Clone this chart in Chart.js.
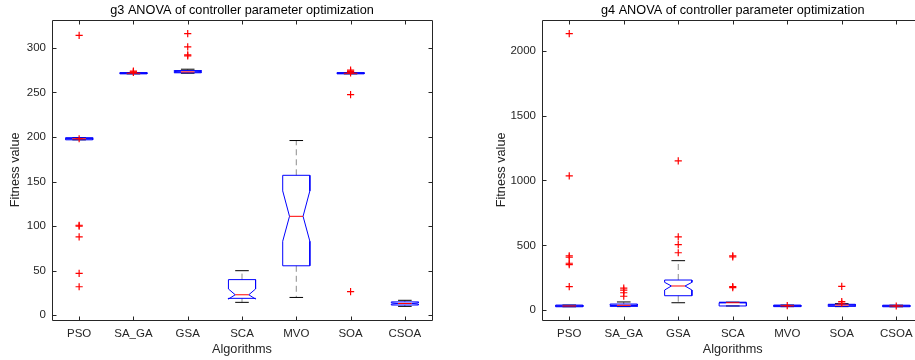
<!DOCTYPE html>
<html>
<head>
<meta charset="utf-8">
<script src="https://cdn.jsdelivr.net/npm/chart.js@4"></script>
<style>
  html, body { margin: 0; padding: 0; background: #fff; overflow: hidden; width: 915px; height: 360px; }
  #g3Chart { position: absolute; left: 0; top: 0; }
  #g4Chart { position: absolute; left: 460px; top: 0; }
</style>
</head>
<body>
<canvas id="g3Chart" width="460" height="360"></canvas>
<canvas id="g4Chart" width="475" height="360"></canvas>
<script>
const algorithms = ["PSO", "SA_GA", "GSA", "SCA", "MVO", "SOA", "CSOA"];

// g3
const g3Ticks = [0, 50, 100, 150, 200, 250, 300];
const g3Q1 = [196.8, 270.8, 272, 19, 55.5, 270.8, 11.5];
const g3Median = [198, 271.5, 273, 23, 111, 271.5, 13.2];
const g3Q3 = [199.2, 272.2, 274.5, 40, 157, 272.2, 15];
const g3NotchLo = [198, 271.5, 272.5, 18.2, 83, 271.5, 12.5];
const g3NotchHi = [198, 271.5, 273.5, 29.5, 139.5, 271.5, 14];
const g3WhiskerLo = [196.8, 270.8, 271.5, 14.5, 20, 270.8, 10];
const g3WhiskerHi = [199.2, 272.2, 276, 50, 196, 272.2, 16.8];
const g3Outliers = [
    [314, 198, 101, 100, 88, 47, 32],
    [274, 273, 272.5],
    [316, 301, 292, 291],
    [],
    [],
    [275, 273.5, 272, 247.5, 26.5],
    [],
];

// g4
const g4Ticks = [0, 500, 1000, 1500, 2000];
const g4Q1 = [27, 30, 112, 33, 28, 30, 27];
const g4Median = [33, 38, 187, 58, 34, 40, 33];
const g4Q3 = [40, 48, 233, 62, 40, 46, 39];
const g4NotchLo = [33, 36, 156, 56, 34, 38, 33];
const g4NotchHi = [33, 40, 215, 60, 34, 42, 33];
const g4WhiskerLo = [27, 28, 58, 33, 28, 28, 27];
const g4WhiskerHi = [40, 64, 382, 62, 40, 51, 39];
const g4Outliers = [
    [2131, 1035, 420, 410, 362, 352, 182],
    [170, 155, 135, 108],
    [1151, 566, 505, 443],
    [420, 412, 183, 175],
    [35],
    [184, 66, 54],
    [33],
];

Chart.defaults.font.family = "'Liberation Sans', Arial, Helvetica, sans-serif";
Chart.defaults.color = "#262626";

const BOX_W = 0.25;

function buildDatasets(q1, med, q3, nLo, nHi, wLo, wHi, outliers) {
    const box = [], medLine = [], caps = [], whiskers = [], pts = [];
    for (let i = 0; i < q1.length; i++) {
        const x = i + 1;
        box.push(
            { x: x - BOX_W, y: q1[i] }, { x: x - BOX_W, y: nLo[i] }, { x: x - BOX_W / 2, y: med[i] },
            { x: x - BOX_W, y: nHi[i] }, { x: x - BOX_W, y: q3[i] }, { x: x + BOX_W, y: q3[i] },
            { x: x + BOX_W, y: nHi[i] }, { x: x + BOX_W / 2, y: med[i] }, { x: x + BOX_W, y: nLo[i] },
            { x: x + BOX_W, y: q1[i] }, { x: x - BOX_W, y: q1[i] }, { x: x, y: null }
        );
        medLine.push({ x: x - BOX_W / 2, y: med[i] }, { x: x + BOX_W / 2, y: med[i] }, { x: x, y: null });
        caps.push(
            { x: x - BOX_W / 2, y: wHi[i] }, { x: x + BOX_W / 2, y: wHi[i] }, { x: x, y: null },
            { x: x - BOX_W / 2, y: wLo[i] }, { x: x + BOX_W / 2, y: wLo[i] }, { x: x, y: null }
        );
        whiskers.push(
            { x: x, y: q3[i] }, { x: x, y: wHi[i] }, { x: x, y: null },
            { x: x, y: q1[i] }, { x: x, y: wLo[i] }, { x: x, y: null }
        );
        outliers[i].forEach((v) => pts.push({ x: x, y: v }));
    }
    const line = { type: "line", showLine: true, spanGaps: false, pointRadius: 0, fill: false, tension: 0, borderWidth: 1 };
    return [
        { data: pts, showLine: false, pointStyle: "cross", pointRadius: 3.6, borderColor: "#ff0000", borderWidth: 1.2, backgroundColor: "#ff0000" },
        { ...line, data: medLine, borderColor: "#ff0000" },
        { ...line, data: box, borderColor: "#0000ff" },
        { ...line, data: caps, borderColor: "#000000" },
        { ...line, data: whiskers, borderColor: "rgba(0,0,0,0.45)", borderDash: [6, 4] },
    ];
}

// axes box with inward ticks on all four sides
const framePlugin = {
    id: "frame",
    afterDraw(chart) {
        const { ctx, chartArea: a, scales } = chart;
        const L = Math.round(a.left) + 0.5, R = Math.round(a.right) + 0.5;
        const T = Math.round(a.top) + 0.5, B = Math.round(a.bottom) + 0.5;
        const len = 4;
        ctx.save();
        ctx.strokeStyle = "#262626";
        ctx.lineWidth = 1;
        ctx.beginPath();
        ctx.rect(L, T, R - L, B - T);
        scales.x.ticks.forEach((t) => {
            const px = Math.round(scales.x.getPixelForValue(t.value)) + 0.5;
            ctx.moveTo(px, B); ctx.lineTo(px, B - len);
            ctx.moveTo(px, T); ctx.lineTo(px, T + len);
        });
        scales.y.ticks.forEach((t) => {
            const py = Math.round(scales.y.getPixelForValue(t.value)) + 0.5;
            ctx.moveTo(L, py); ctx.lineTo(L + len, py);
            ctx.moveTo(R, py); ctx.lineTo(R - len, py);
        });
        ctx.stroke();
        ctx.restore();
    },
};

function makeConfig(title, datasets, yMin, yMax, yTicks, yWidth, yTitlePad, rightPad) {
    return {
        type: "scatter",
        data: { datasets: datasets },
        options: {
            responsive: false,
            animation: false,
            events: [],
            layout: { padding: { left: 0, right: rightPad, top: 0, bottom: 0 } },
            plugins: {
                legend: { display: false },
                tooltip: { enabled: false },
                title: {
                    display: true,
                    fullSize: false,
                    text: title,
                    color: "#000000",
                    font: { size: 12.7, weight: "normal" },
                    padding: { top: 2.5, bottom: 2 },
                },
            },
            scales: {
                x: {
                    type: "linear",
                    min: 0.5,
                    max: 7.5,
                    grid: { display: false, drawTicks: false },
                    border: { display: false },
                    afterBuildTicks: (s) => { s.ticks = algorithms.map((a, i) => ({ value: i + 1 })); },
                    afterFit: (s) => { s.height = 40; },
                    ticks: {
                        padding: 7,
                        maxRotation: 0,
                        autoSkip: false,
                        font: { size: 11.5 },
                        callback: (v) => algorithms[v - 1],
                    },
                    title: { display: true, text: "Algorithms", font: { size: 12.7 }, padding: { top: 0, bottom: 3 } },
                },
                y: {
                    type: "linear",
                    min: yMin,
                    max: yMax,
                    grid: { display: false, drawTicks: false },
                    border: { display: false },
                    afterBuildTicks: (s) => { s.ticks = yTicks.map((v) => ({ value: v })); },
                    afterFit: (s) => { s.width = yWidth; },
                    ticks: { padding: 6, font: { size: 11.5 }, callback: (v) => String(v) },
                    title: { display: true, text: "Fitness value", font: { size: 12.7 }, padding: { top: yTitlePad, bottom: 0 } },
                },
            },
        },
        plugins: [framePlugin],
    };
}

const g3Chart = new Chart(
    document.getElementById("g3Chart"),
    makeConfig(
        "g3 ANOVA of controller parameter optimization",
        buildDatasets(g3Q1, g3Median, g3Q3, g3NotchLo, g3NotchHi, g3WhiskerLo, g3WhiskerHi, g3Outliers),
        -5.3, 331.5, g3Ticks, 52, 7.4, 28
    )
);

const g4Chart = new Chart(
    document.getElementById("g4Chart"),
    makeConfig(
        "g4 ANOVA of controller parameter optimization",
        buildDatasets(g4Q1, g4Median, g4Q3, g4NotchLo, g4NotchHi, g4WhiskerLo, g4WhiskerHi, g4Outliers),
        -75, 2238, g4Ticks, 82, 33.4, 11.5
    )
);
</script>
</body>
</html>
